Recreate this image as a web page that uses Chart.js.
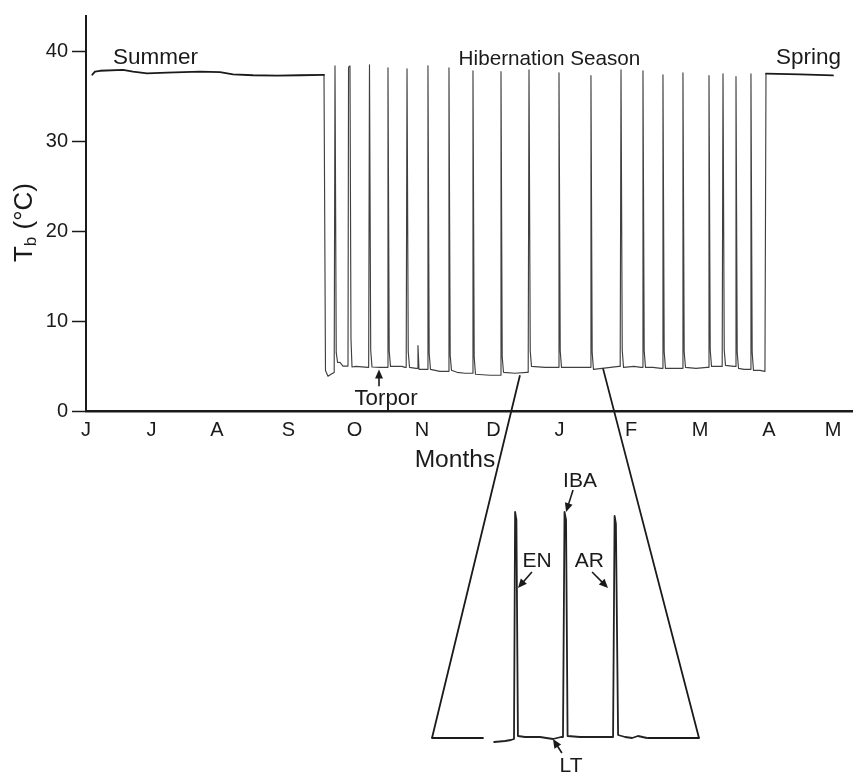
<!DOCTYPE html>
<html><head><meta charset="utf-8">
<script src="https://cdn.jsdelivr.net/npm/chart.js@4.4.1/dist/chart.umd.min.js"></script>
<style>
html,body{margin:0;padding:0;background:#fff;}
#wrap{position:relative;width:855px;height:772px;overflow:hidden;}
canvas{position:absolute;left:0;top:0;}
#inset{pointer-events:none;}
</style></head><body>
<div id="wrap"><canvas id="main" width="855" height="772"></canvas><canvas id="inset" width="855" height="772"></canvas></div>
<script>
// ---------- data ----------
const monthLabels = ['J','J','A','S','O','N','D','J','F','M','A','M'];
const monthTickPos = [0, 0.963, 1.926, 2.978, 3.949, 4.941, 5.993, 6.963, 8.015, 9.029, 10.044, 10.985];
const tbTicks = [0, 10, 20, 30, 40];

// [month, Tb °C]
const summerTrace = [
 [0.093,37.46],[0.132,37.8],[0.206,37.9],[0.544,38.0],[0.691,37.8],[0.897,37.6],[1.191,37.7],
 [1.676,37.8],[1.971,37.75],[2.162,37.5],[2.456,37.4],[2.809,37.35],[3.147,37.4],[3.500,37.45]
];
const hibernationTrace = [
 [3.500,37.45],[3.522,4.5],[3.559,3.87],[3.603,4.09],
 [3.650,4.3],[3.662,38.45],[3.680,6.5],[3.700,5.4],[3.735,5.41],[3.779,5.0],[3.838,5.0],
 [3.853,5.0],[3.861,38.3],[3.882,38.45],[3.897,8.0],[3.912,4.9],[3.971,4.97],[4.147,4.86],
 [4.157,4.86],[4.169,38.56],[4.187,6.8],[4.206,4.9],[4.324,4.86],[4.412,4.86],
 [4.429,4.86],[4.441,38.23],[4.459,6.7],[4.478,4.97],[4.647,4.97],[4.691,4.86],
 [4.709,4.86],[4.721,38.12],[4.739,6.6],[4.758,4.86],[4.853,4.75],
 [4.868,4.75],[4.882,7.29],[4.897,4.64],[5.0,4.64],
 [5.017,4.64],[5.029,38.45],[5.047,6.4],[5.066,4.64],[5.206,4.42],[5.309,4.42],
 [5.326,4.42],[5.338,38.23],[5.356,6.2],[5.375,4.53],[5.456,4.31],[5.574,4.2],[5.662,4.2],
 [5.679,4.2],[5.691,37.9],[5.709,6.0],[5.728,4.09],[5.941,3.98],[6.074,3.98],
 [6.091,3.98],[6.103,37.8],[6.121,6.0],[6.140,4.31],[6.309,4.2],[6.485,4.31],
 [6.503,4.31],[6.515,38.0],[6.533,6.7],[6.552,4.97],[6.750,4.86],[6.926,4.86],
 [6.944,4.86],[6.956,37.68],[6.974,6.7],[6.993,4.86],[7.176,4.86],[7.397,4.86],
 [7.414,4.86],[7.426,37.35],[7.444,6.5],[7.463,4.64],[7.588,4.75],[7.838,4.97],
 [7.856,4.97],[7.868,38.0],[7.886,6.8],[7.905,4.86],[8.059,4.97],[8.162,4.86],
 [8.179,4.86],[8.191,37.9],[8.209,6.7],[8.228,4.86],[8.338,4.86],[8.456,4.75],
 [8.473,4.75],[8.485,37.46],[8.503,6.6],[8.522,4.75],[8.632,4.75],[8.750,4.75],
 [8.767,4.75],[8.779,37.68],[8.797,6.6],[8.816,4.86],[8.971,4.75],[9.132,4.86],
 [9.150,4.86],[9.162,37.35],[9.180,6.8],[9.199,4.97],[9.338,4.97],
 [9.356,4.97],[9.368,37.57],[9.386,6.8],[9.405,5.08],[9.529,4.97],
 [9.547,4.97],[9.559,37.24],[9.577,6.5],[9.596,4.75],[9.676,4.64],[9.750,4.64],
 [9.767,4.64],[9.779,37.57],[9.797,6.5],[9.816,4.53],[9.912,4.53],[9.985,4.42],
 [10.0,37.57]
];
const springTrace = [[10.0,37.57],[10.5,37.5],[10.985,37.38]];

// expanded view of a few torpor bouts (inset), [month, Tb °C]
const insetTrace = [
 [6.666,3.4],[6.716,3.55],[6.743,3.7],[6.757,3.85],[6.762,37.9],[6.768,36.7],[6.775,4.3],
 [6.807,4.15],[6.876,4.15],[6.935,3.85],[6.972,4.15],[6.981,4.15],[6.988,37.9],[6.995,36.7],
 [7.002,4.3],[7.059,4.15],[7.150,4.15],[7.210,4.15],[7.217,37.3],[7.223,36.1],[7.233,4.45],
 [7.265,4.15],[7.297,4.0],[7.324,4.3],[7.365,4.0]
];
const insetBaseLeft = [[6.382,4.0],[6.615,4.0]];
const insetBaseRight = [[7.370,4.0],[7.603,4.0]];
const zoomFrom = [6.382, 3.98];   // main-chart point where the expansion starts
const zoomTo = [7.603, 4.75];     // main-chart point where the expansion ends

// ---------- styling / helpers ----------
const FONT = '"Liberation Sans", Arial, Helvetica, sans-serif';
const INK = '#1a1a1a';
const toXY = arr => arr.map(p => ({x: p[0], y: p[1]}));

function drawArrow(ctx, x1, y1, x2, y2) {
  const ang = Math.atan2(y2 - y1, x2 - x1), L = 9, W = 4;
  ctx.beginPath(); ctx.moveTo(x1, y1);
  ctx.lineTo(x2 - Math.cos(ang) * (L - 1), y2 - Math.sin(ang) * (L - 1));
  ctx.lineWidth = 1.6; ctx.stroke();
  ctx.beginPath(); ctx.moveTo(x2, y2);
  ctx.lineTo(x2 - L * Math.cos(ang) + W * Math.sin(ang), y2 - L * Math.sin(ang) - W * Math.cos(ang));
  ctx.lineTo(x2 - L * Math.cos(ang) - W * Math.sin(ang), y2 - L * Math.sin(ang) + W * Math.cos(ang));
  ctx.closePath(); ctx.fill();
}
function notesPlugin(id, notes) {
  return { id, afterDatasetsDraw(chart) {
    const ctx = chart.ctx, xs = chart.scales.x, ys = chart.scales.y;
    ctx.save(); ctx.fillStyle = INK; ctx.strokeStyle = INK;
    for (const t of notes.texts) {
      ctx.font = t.size + 'px ' + FONT; ctx.textAlign = 'center'; ctx.textBaseline = 'alphabetic';
      ctx.fillText(t.text, xs.getPixelForValue(t.x), ys.getPixelForValue(t.y));
    }
    for (const a of notes.arrows) {
      drawArrow(ctx, xs.getPixelForValue(a.from[0]), ys.getPixelForValue(a.from[1]),
                     xs.getPixelForValue(a.to[0]), ys.getPixelForValue(a.to[1]));
    }
    ctx.restore();
  }};
}
const mainNotes = {
  texts: [
    {text: 'Summer', x: 1.022, y: 38.6, size: 22.5},
    {text: 'Hibernation Season', x: 6.816, y: 38.52, size: 20.7},
    {text: 'Spring', x: 10.625, y: 38.6, size: 22.5},
    {text: 'Torpor', x: 4.412, y: 0.66, size: 22.3},
    {text: 'Months', x: 5.426, y: -6.29, size: 24.6}
  ],
  arrows: [{from: [4.309, 2.76], to: [4.309, 4.63]}]
};
const insetNotes = {
  texts: [
    {text: 'EN', x: 6.862, y: 29.65, size: 21},
    {text: 'AR', x: 7.102, y: 29.65, size: 21},
    {text: 'IBA', x: 7.059, y: 41.65, size: 21},
    {text: 'LT', x: 7.018, y: -1.1, size: 21}
  ],
  arrows: [
    {from: [6.839, 28.9], to: [6.775, 26.5]},
    {from: [7.114, 28.9], to: [7.187, 26.5]},
    {from: [7.027, 41.2], to: [6.995, 37.9]},
    {from: [6.976, 1.75], to: [6.935, 3.85]}
  ]
};
const yTitlePlugin = { id: 'yTitle', afterDraw(chart) {
  const ctx = chart.ctx, ys = chart.scales.y;
  const cy = (ys.top + ys.bottom) / 2 + 9;
  ctx.save(); ctx.fillStyle = INK; ctx.translate(32, cy); ctx.rotate(-Math.PI / 2);
  ctx.textBaseline = 'alphabetic'; ctx.textAlign = 'left';
  const big = '26px ' + FONT, small = '17px ' + FONT;
  ctx.font = big; const wT = ctx.measureText('T').width, wR = ctx.measureText(' (°C)').width;
  ctx.font = small; const wb = ctx.measureText('b').width;
  let x = -(wT + wb + wR) / 2;
  ctx.font = big; ctx.fillText('T', x, 0); x += wT;
  ctx.font = small; ctx.fillText('b', x, 4); x += wb;
  ctx.font = big; ctx.fillText(' (°C)', x, 0);
  ctx.restore();
}};

Chart.defaults.font.family = FONT;
const lineDefaults = {pointRadius: 0, tension: 0, fill: false, borderJoinStyle: 'round', borderCapStyle: 'round'};

const mainChart = new Chart(document.getElementById('main'), {
  type: 'line',
  data: { datasets: [
    Object.assign({data: toXY(summerTrace), borderColor: INK, borderWidth: 1.8}, lineDefaults),
    Object.assign({data: toXY(hibernationTrace), borderColor: '#404040', borderWidth: 1.15}, lineDefaults),
    Object.assign({data: toXY(springTrace), borderColor: INK, borderWidth: 1.8}, lineDefaults)
  ]},
  options: {
    responsive: false, animation: false, devicePixelRatio: 1,
    layout: {padding: {left: 0, top: 12, right: 3, bottom: 321}},
    plugins: {legend: {display: false}, tooltip: {enabled: false}},
    scales: {
      x: {
        type: 'linear', min: 0, max: 11.265,
        afterBuildTicks: s => { s.ticks = monthTickPos.map(v => ({value: v})); },
        afterFit: s => { s.height = 40; },
        ticks: {callback: (v, i) => monthLabels[i], font: {size: 20}, color: INK, padding: 7, maxRotation: 0, autoSkip: false},
        grid: {display: false, drawTicks: false},
        border: {display: true, color: INK, width: 2.5}
      },
      y: {
        min: 0, max: 44,
        afterBuildTicks: s => { s.ticks = tbTicks.map(v => ({value: v})); },
        afterFit: s => { s.width = 86; },
        ticks: {font: {size: 20}, color: INK, padding: 4},
        grid: {drawOnChartArea: false, drawTicks: true, tickLength: 14, tickWidth: 1.5, tickColor: INK},
        border: {display: true, color: INK, width: 2}
      }
    }
  },
  plugins: [notesPlugin('mainNotes', mainNotes), yTitlePlugin]
});

const zoomPlugin = { id: 'zoomLines', afterDatasetsDraw(chart) {
  const ctx = chart.ctx, mx = mainChart.scales.x, my = mainChart.scales.y;
  const ix = chart.scales.x, iy = chart.scales.y;
  ctx.save(); ctx.strokeStyle = INK; ctx.lineWidth = 1.8;
  ctx.beginPath();
  ctx.moveTo(mx.getPixelForValue(zoomFrom[0]), my.getPixelForValue(zoomFrom[1]));
  ctx.lineTo(ix.getPixelForValue(insetBaseLeft[0][0]), iy.getPixelForValue(insetBaseLeft[0][1]));
  ctx.moveTo(mx.getPixelForValue(zoomTo[0]), my.getPixelForValue(zoomTo[1]));
  ctx.lineTo(ix.getPixelForValue(insetBaseRight[1][0]), iy.getPixelForValue(insetBaseRight[1][1]));
  ctx.stroke(); ctx.restore();
}};

new Chart(document.getElementById('inset'), {
  type: 'line',
  data: { datasets: [
    Object.assign({data: toXY(insetTrace), borderColor: '#222', borderWidth: 1.8, clip: false}, lineDefaults),
    Object.assign({data: toXY(insetBaseLeft), borderColor: INK, borderWidth: 1.8, clip: false}, lineDefaults),
    Object.assign({data: toXY(insetBaseRight), borderColor: INK, borderWidth: 1.8, clip: false}, lineDefaults)
  ]},
  options: {
    responsive: false, animation: false, devicePixelRatio: 1,
    layout: {padding: {left: 432, right: 156, top: 508, bottom: 34}},
    plugins: {legend: {display: false}, tooltip: {enabled: false}},
    scales: {
      x: {type: 'linear', min: 6.382, max: 7.603, display: false},
      y: {min: 4, max: 38.5, display: false}
    }
  },
  plugins: [zoomPlugin, notesPlugin('insetNotes', insetNotes)]
});
</script>
</body></html>
